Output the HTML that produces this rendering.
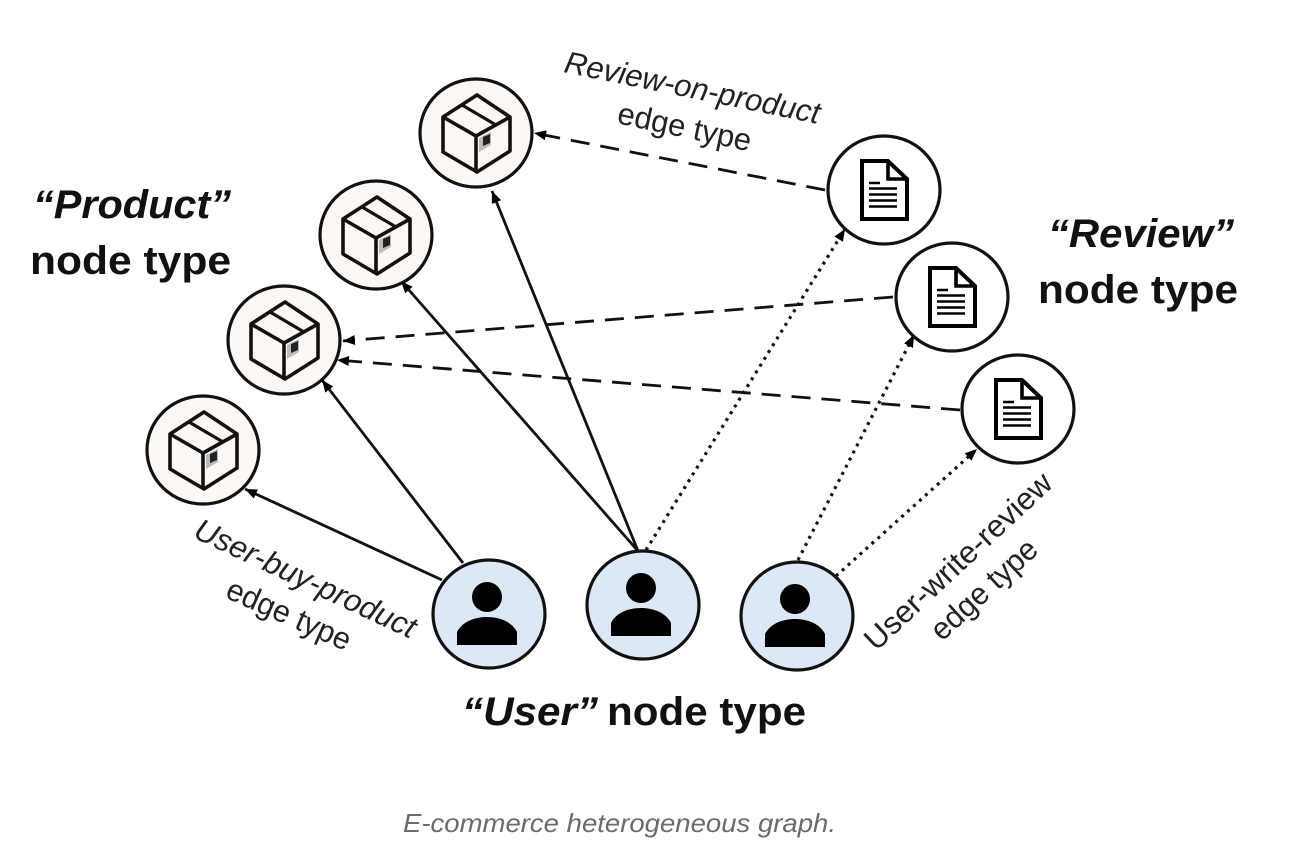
<!DOCTYPE html>
<html><head><meta charset="utf-8"><style>
html,body{margin:0;padding:0;background:#fff}
svg{display:block}
text{font-family:"Liberation Sans",sans-serif;fill:#111}
.big{font-size:40px;font-weight:700}
.lab{font-size:31px;fill:#222}
</style></head><body>
<svg width="1290" height="850" viewBox="0 0 1290 850" xmlns="http://www.w3.org/2000/svg">
<defs>
<marker id="a" markerWidth="14" markerHeight="12" refX="12" refY="5" orient="auto" markerUnits="userSpaceOnUse"><path d="M0 0L12 5L0 10z" fill="#000"/></marker>
<g id="box" fill="none" stroke="#111" stroke-width="3.6" stroke-linejoin="round">
<ellipse rx="56" ry="54" fill="#fdf8f3" stroke-width="3.2"/>
<path d="M1 -38L34 -16V18L1 39L-33 19V-16Z"/><path d="M-33 -16L0 3L34 -16M0 3V39"/>
<path d="M-14 -28L20 -8" stroke-width="3.2"/>
<path d="M3 5L15 -1V12L3 19Z" fill="#bbb" stroke="none"/>
<path d="M7 4L14 1V10L7 13Z" fill="#222" stroke="none"/>
</g>
<g id="doc" fill="none" stroke="#000">
<ellipse rx="56" ry="54" fill="#fff" stroke="#111" stroke-width="3.2"/>
<path d="M-22 -29H4L23 -11V29H-22Z" stroke-width="4"/><path d="M4 -29V-11H23" stroke-width="3.600"/>
<path d="M-15 -7H-4M-15 -1.500H13M-15 4.500H13M-15 10.500H13M-15 16.500H13" stroke-width="2.600"/>
</g>
<g id="user">
<ellipse rx="56" ry="54" fill="#dce8f5" stroke="#111" stroke-width="3.2"/>
<circle cx="-2" cy="-17" r="15" fill="#000"/>
<path d="M-32 31V18C-27 8 -15 3 -2 3C11 3 23 8 28 18V31Z" fill="#000"/>
</g>
</defs>

<g fill="none" stroke="#111" stroke-width="2.800" marker-end="url(#a)">
<line x1="442" y1="580" x2="245" y2="489"/>
<line x1="463" y1="563" x2="322" y2="380"/>
<line x1="638" y1="551" x2="401" y2="281"/>
<line x1="638" y1="551" x2="492" y2="191"/>
</g>
<g fill="none" stroke="#111" stroke-width="2.800" stroke-dasharray="19 11" marker-end="url(#a)">
<line x1="825" y1="190" x2="534" y2="133"/>
<line x1="893" y1="297" x2="343" y2="341"/>
<line x1="960" y1="410" x2="337" y2="360"/>
</g>
<g fill="none" stroke="#111" stroke-width="3.200" stroke-dasharray="3 5" marker-end="url(#a)">
<line x1="646" y1="550" x2="845" y2="229"/>
<line x1="798" y1="560" x2="914" y2="335"/>
<line x1="836" y1="576" x2="977" y2="449"/>
</g>

<use href="#box" x="476" y="133"/>
<use href="#box" x="376" y="235"/>
<use href="#box" x="284" y="340"/>
<use href="#box" x="203" y="450"/>
<use href="#doc" x="884" y="190"/>
<use href="#doc" x="952" y="297"/>
<use href="#doc" x="1018" y="409"/>
<use href="#user" x="489" y="614"/>
<use href="#user" x="643" y="605"/>
<use href="#user" x="797" y="616"/>

<text class="big" x="33" y="218" textLength="198" lengthAdjust="spacingAndGlyphs" font-style="italic">“Product”</text>
<text class="big" x="30" y="274" textLength="201" lengthAdjust="spacingAndGlyphs">node type</text>
<text class="big" x="1048" y="247" textLength="186" lengthAdjust="spacingAndGlyphs" font-style="italic">“Review”</text>
<text class="big" x="1038" y="303" textLength="200" lengthAdjust="spacingAndGlyphs">node type</text>
<text class="big" x="462" y="725" textLength="136" lengthAdjust="spacingAndGlyphs" font-style="italic">“User”</text>
<text class="big" x="607" y="725" textLength="199" lengthAdjust="spacingAndGlyphs">node type</text>

<text class="lab" font-style="italic" transform="translate(563 72) rotate(11.500)" textLength="260" lengthAdjust="spacingAndGlyphs">Review-on-product</text>
<text class="lab" transform="translate(616 123) rotate(12)" textLength="136" lengthAdjust="spacingAndGlyphs">edge type</text>
<text class="lab" font-style="italic" transform="translate(192 537) rotate(25)" textLength="241" lengthAdjust="spacingAndGlyphs">User-buy-product</text>
<text class="lab" transform="translate(224 597) rotate(24)" textLength="133" lengthAdjust="spacingAndGlyphs">edge type</text>
<text class="lab" transform="translate(876 652) rotate(-43)" textLength="244" lengthAdjust="spacingAndGlyphs">User-write-review</text>
<text class="lab" transform="translate(942 642) rotate(-42.600)" textLength="133" lengthAdjust="spacingAndGlyphs">edge type</text>

<text x="403" y="832" font-size="26" font-style="italic" style="fill:#6b6b6b" textLength="433" lengthAdjust="spacingAndGlyphs">E-commerce heterogeneous graph.</text>
</svg>
</body></html>
